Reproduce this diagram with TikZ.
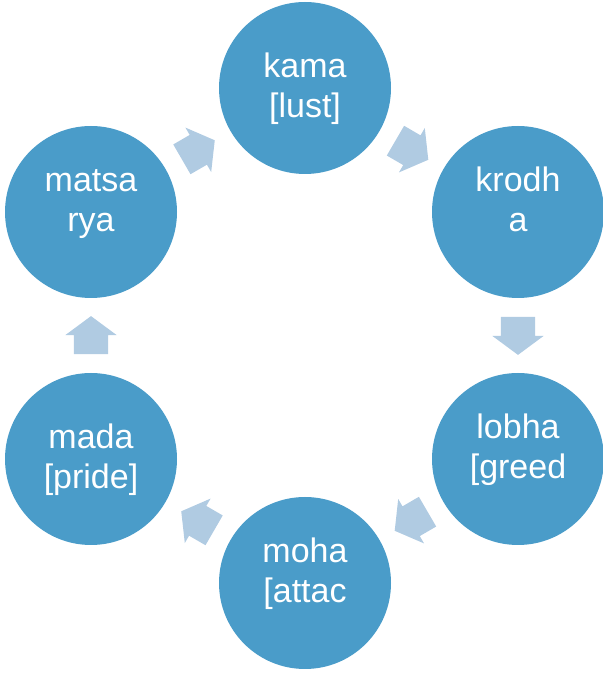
\documentclass[tikz,border=0pt]{standalone}
\usepackage{fontspec}
\setmainfont{Liberation Sans}
\usetikzlibrary{shapes.arrows}
\definecolor{ringblue}{RGB}{74,156,201}
\definecolor{arrowblue}{RGB}{176,203,226}
\begin{document}
\begin{tikzpicture}[x=1pt, y=1pt,
        sin/.style={circle, fill=ringblue, minimum size=172pt, inner sep=0pt},
        sintext/.style={inner sep=0pt, text=white, align=center,
          font=\fontsize{34}{40}\selectfont},
        turn/.style={single arrow, fill=arrowblue, inner xsep=0pt, inner ysep=17pt,
          minimum height=38pt, single arrow head extend=8.5pt,
          single arrow tip angle=107, sloped, allow upside down, pos=0.42}]
        \useasboundingbox (0,0) rectangle (603,673);

        \node[sin] (kama) at (305,585) {};
        \node[sin] (krodha) at (518,461) {};
        \node[sin] (lobha) at (518,214) {};
        \node[sin] (moha) at (305,90) {};
        \node[sin] (mada) at (91,214) {};
        \node[sin] (matsarya) at (91,461) {};

        \node[sintext] (kamatext) at ([yshift=-2pt]kama) {kama\strut\\{[}lust{]}\strut};
        \node[sintext] (krodhatext) at ([yshift=8pt]krodha) {krodh\strut\\a\strut};
        \node[sintext] (lobhatext) at ([yshift=8pt]lobha) {lobha\strut\\{[}greed\strut};
        \node[sintext] (mohatext) at ([yshift=8pt]moha) {moha\strut\\{[}attac\strut};
        \node[sintext] (madatext) at ([yshift=-2pt]mada) {mada\strut\\{[}pride{]}\strut};
        \node[sintext] (matsaryatext) at ([yshift=8pt]matsarya) {matsa\strut\\rya\strut};

        \path (kama) -- node[turn] {} (krodha);
        \path (krodha) -- node[turn] {} (lobha);
        \path (lobha) -- node[turn] {} (moha);
        \path (moha) -- node[turn] {} (mada);
        \path (mada) -- node[turn] {} (matsarya);
        \path (matsarya) -- node[turn] {} (kama);
      \end{tikzpicture}
\end{document}
